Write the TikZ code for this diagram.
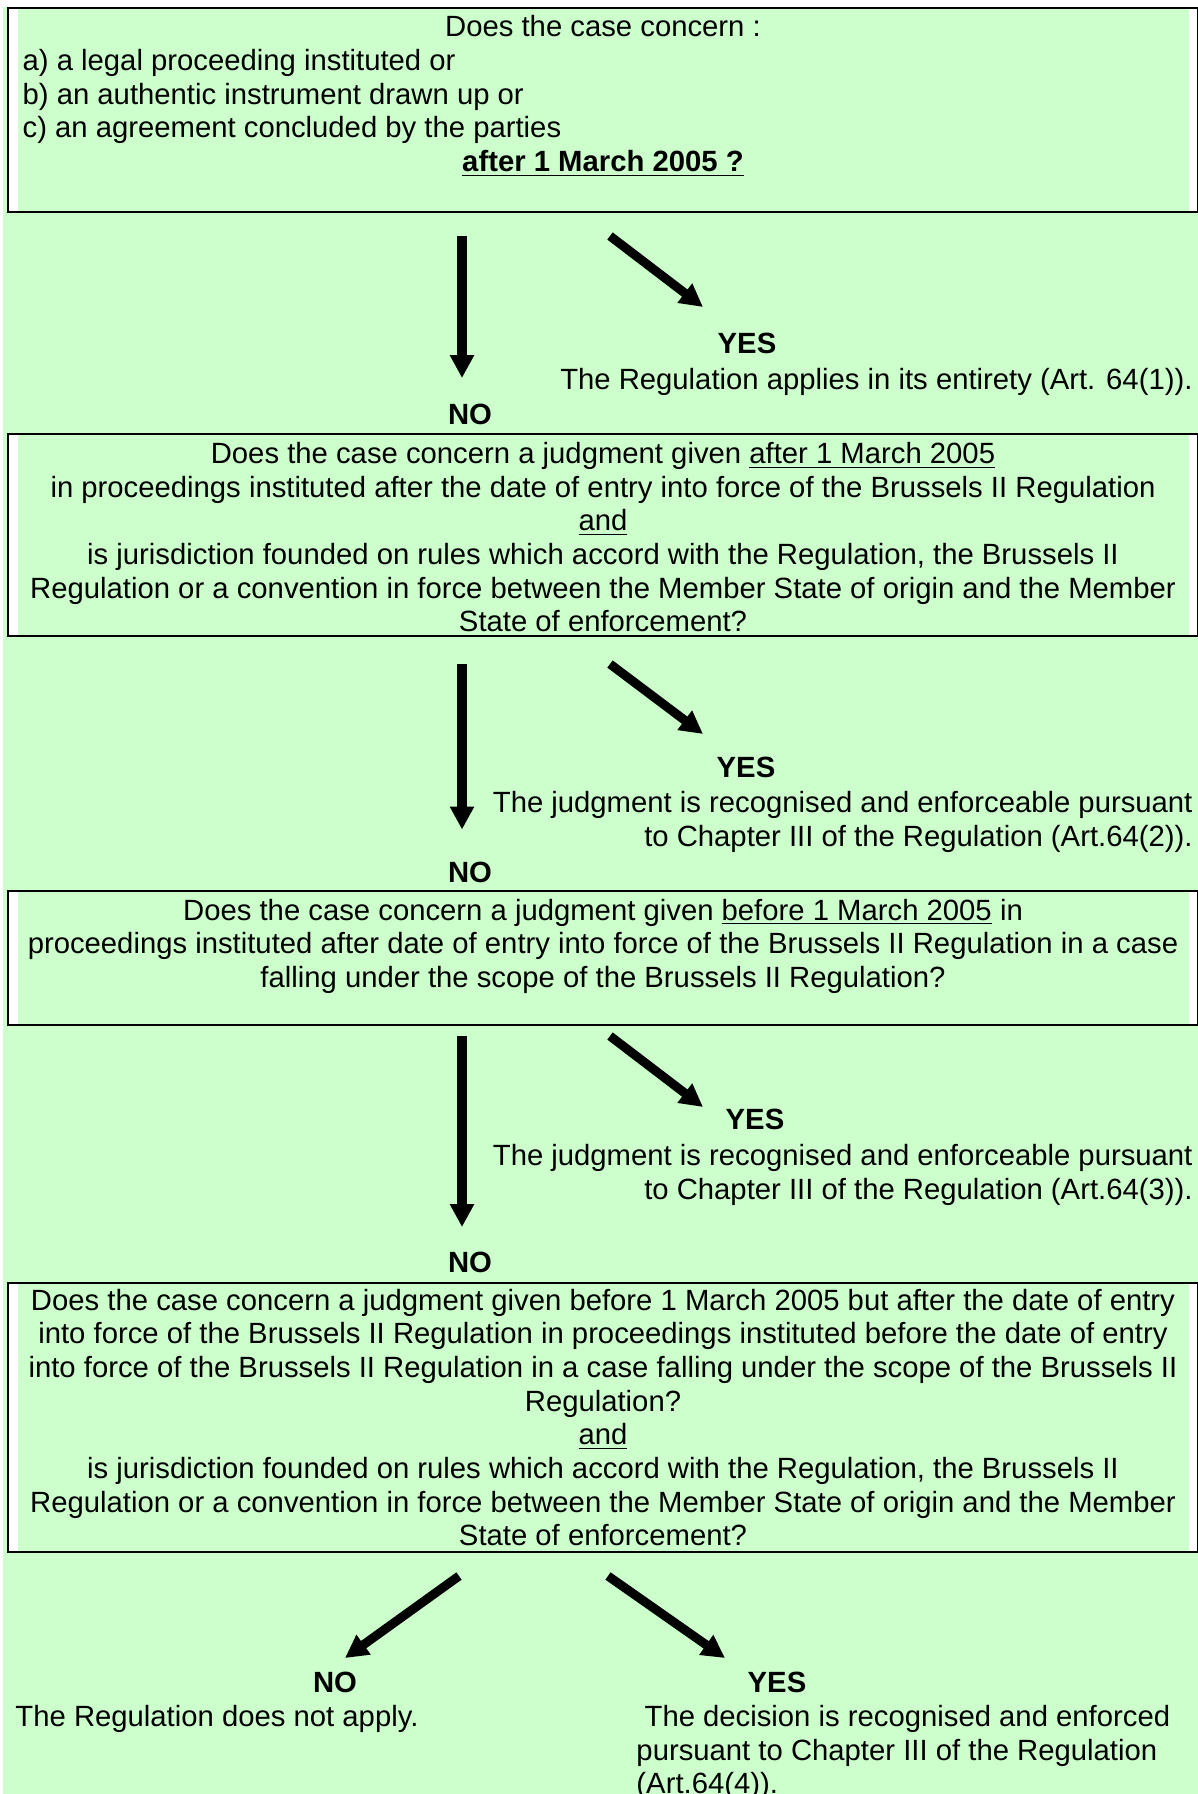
\documentclass[tikz,border=0pt]{standalone}
\usepackage{fontspec}
\setmainfont{Liberation Sans}
\usepackage{tikz}
\usetikzlibrary{arrows.meta}
\definecolor{qgreen}{HTML}{CCFFCC}
\newcommand\qsize{\fontsize{12}{13.8}\selectfont}
\newcommand\qspacing{\spaceskip=3.34pt\relax}
\newcommand\qindent{\hspace*{5.2pt}}
\tikzset{
    qbox/.style     = {shape=rectangle, draw, line width=0.82pt,
        fill=white, anchor=north west, inner sep=0pt,
        execute at begin node=\qspacing,
        minimum width=487.9pt, text width=486.3pt, align=center,
        path picture={\fill[qgreen]
            ([xshift=4.1pt]path picture bounding box.south west) rectangle
            ([xshift=-3.7pt]path picture bounding box.north east);}},
    answer/.style   = {font=\qsize\bfseries, anchor=base},
    result/.style   = {inner sep=0pt, anchor=base east, align=right},
    outcome/.style  = {inner sep=0pt, anchor=base west, align=left},
    bigarrow/.style = {line width=3.7pt, -{Triangle[width=9.4pt,length=9.4pt]}}
}
\begin{document}
\begin{tikzpicture}
            [
            x                 = 0.41pt,
            y                 = -0.41pt,
            every node/.style = {font=\qsize}
            ]
            \useasboundingbox (0,0) rectangle (1198,1794);
            \fill[qgreen] (3,7) rectangle (1198,1794);
            \node[qbox, text height=11.77pt, text depth=71.9pt] (q1) at (7,7)
                {Does the case concern :\\
                \qindent a) a legal proceeding instituted or\hfill\mbox{}\\
                \qindent b) an authentic instrument drawn up or\hfill\mbox{}\\
                \qindent c) an agreement concluded by the parties\hfill\mbox{}\\
                \textbf{\underline{after 1 March 2005 ?}}};
            \coordinate (n1s) at (462,236);
            \coordinate (n1t) at (462,378);
            \coordinate (y1s) at (610,236);
            \coordinate (y1t) at (703,307);
            \draw[bigarrow] (n1s) -- (n1t);
            \draw[bigarrow] (y1s) -- (y1t);
            \node[answer] (yes1) at (747,353.5) {YES};
            \node[result] (r1) at (1193,389.2) {The Regulation applies in its entirety (Art. 64(1)).};
            \node[answer] (no1) at (470,424.5) {NO};
            \node[qbox, text height=12.3pt, text depth=70.7pt] (q2) at (7,432.5)
                {Does the case concern a judgment given \underline{after 1 March 2005}\\
                in proceedings instituted after the date of entry into force of the Brussels II Regulation\\
                \underline{and}\\
                is jurisdiction founded on rules which accord with the Regulation, the Brussels II\\
                Regulation or a convention in force between the Member State of origin and the Member\\
                State of enforcement?};
            \coordinate (n2s) at (462,664);
            \coordinate (n2t) at (462,829.5);
            \coordinate (y2s) at (610,664);
            \coordinate (y2t) at (703,734);
            \draw[bigarrow] (n2s) -- (n2t);
            \draw[bigarrow] (y2s) -- (y2t);
            \node[answer] (yes2) at (746,777) {YES};
            \node[result] (r2) at (1193,846.1) {The judgment is recognised and enforceable pursuant\\
                to Chapter III of the Regulation (Art.64(2)).};
            \node[answer] (no2) at (470,882.5) {NO};
            \node[qbox, text height=11.9pt, text depth=43.05pt] (q3) at (7,890)
                {Does the case concern a judgment given \underline{before 1 March 2005} in\\
                proceedings instituted after date of entry into force of the Brussels II Regulation in a case\\
                falling under the scope of the Brussels II Regulation?};
            \coordinate (n3s) at (462,1036);
            \coordinate (n3t) at (462,1227);
            \coordinate (y3s) at (610,1036);
            \coordinate (y3t) at (703,1107);
            \draw[bigarrow] (n3s) -- (n3t);
            \draw[bigarrow] (y3s) -- (y3t);
            \node[answer] (yes3) at (755,1129.5) {YES};
            \node[result] (r3) at (1193,1199.6) {The judgment is recognised and enforceable pursuant\\
                to Chapter III of the Regulation (Art.64(3)).};
            \node[answer] (no3) at (470,1272.5) {NO};
            \node[qbox, text height=11.3pt, text depth=99pt] (q4) at (7,1281.5)
                {Does the case concern a judgment given before 1 March 2005 but after the date of entry\\
                into force of the Brussels II Regulation in proceedings instituted before the date of entry\\
                into force of the Brussels II Regulation in a case falling under the scope of the Brussels II\\
                Regulation?\\
                \underline{and}\\
                is jurisdiction founded on rules which accord with the Regulation, the Brussels II\\
                Regulation or a convention in force between the Member State of origin and the Member\\
                State of enforcement?};
            \coordinate (n4s) at (459,1576);
            \coordinate (n4t) at (345,1658);
            \coordinate (y4s) at (608,1576);
            \coordinate (y4t) at (725,1658);
            \draw[bigarrow] (n4s) -- (n4t);
            \draw[bigarrow] (y4s) -- (y4t);
            \node[answer] (no4) at (335,1692.5) {NO};
            \node[answer] (yes4) at (777,1692.5) {YES};
            \node[outcome] (l4) at (15,1726.5) {The Regulation does not apply.};
            \node[outcome] (r4) at (636,1793.7) {\ The decision is recognised and enforced\\
                pursuant to Chapter III of the Regulation\\
                (Art.64(4)).};
    \end{tikzpicture}
\end{document}
